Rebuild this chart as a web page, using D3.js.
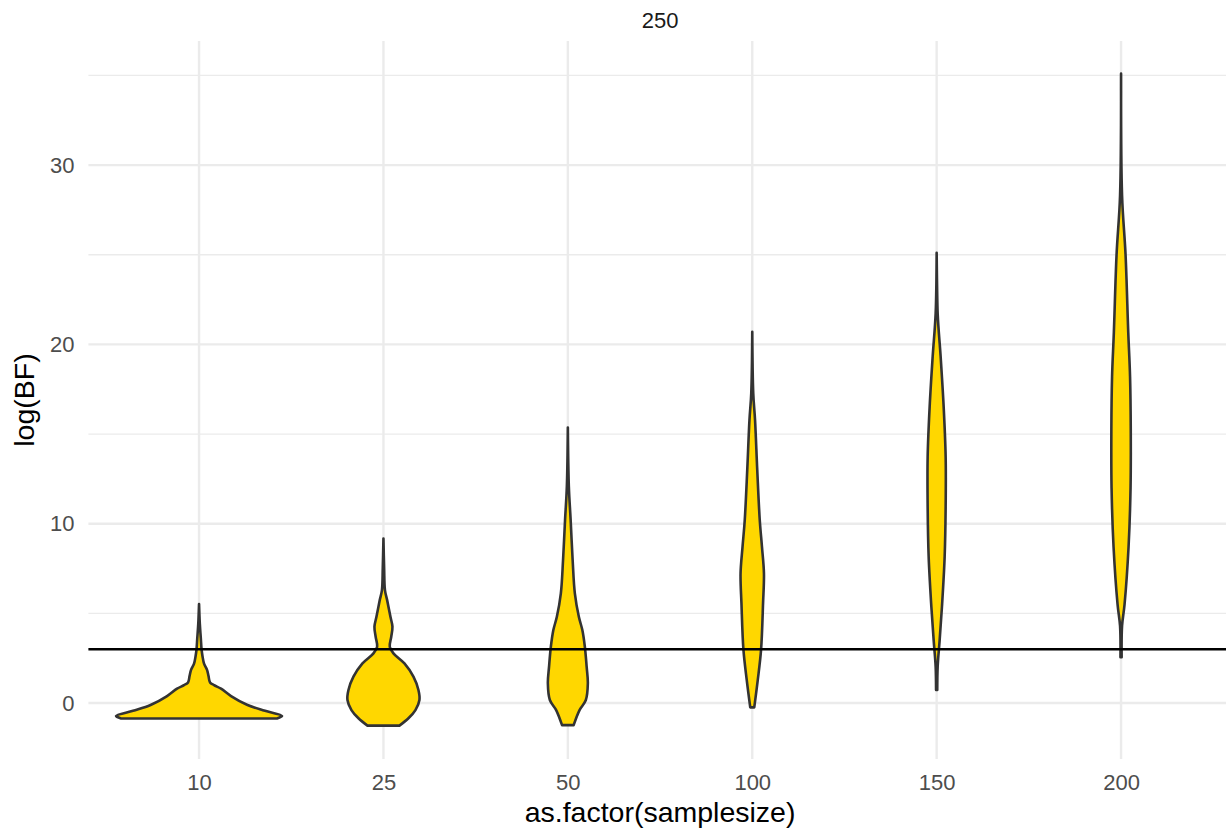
<!DOCTYPE html>
<html>
<head>
<meta charset="utf-8">
<script src="https://cdn.jsdelivr.net/npm/d3@7"></script>
<style>
  html, body { margin: 0; padding: 0; background: #ffffff; }
  svg { display: block; font-family: "Liberation Sans", Arial, Helvetica, sans-serif; }
</style>
</head>
<body>
<svg id="chart" width="1226" height="831"></svg>
<script>
const facetLabel = "250";
const sampleSizes = ["10", "25", "50", "100", "150", "200"];
const yTicks = [0, 10, 20, 30];
const yMinorTicks = [5, 15, 25, 35];
const threshold = 3;

// violin outlines: logBF level and half width (density units)
const logBF10 = [-0.86, -0.72, -0.43, -0.11, 0.39, 0.8, 1.0, 1.15, 1.5, 1.85, 2.2, 2.6, 3.0, 3.6, 4.4, 5.52];
const dens10 = [78, 83, 66, 48.5, 32, 22, 15, 11, 9.5, 8, 5, 3.5, 2.5, 1.8, 0.8, 0];
const logBF25 = [-1.26, -0.85, -0.39, 0.17, 0.73, 1.47, 2.21, 2.77, 3.14, 3.7, 4.26, 4.81, 5.74, 6.3, 7.5, 9.18];
const dens25 = [16, 25, 32, 36, 35, 30, 21, 10, 6.3, 7.8, 9, 7, 3.7, 1.5, 0.7, 0];
const logBF50 = [-1.23, -0.39, 0.17, 1.1, 2.03, 3.14, 4.07, 4.81, 6.12, 7.98, 10.21, 12.07, 15.37];
const dens50 = [5.8, 11.7, 18, 20, 18.8, 17, 14.5, 11, 7, 4.8, 2.8, 1, 0];
const logBF100 = [-0.24, 1.28, 2.96, 5.56, 7.23, 8.72, 10.21, 13.0, 15.78, 17.27, 20.71];
const dens100 = [2, 5.5, 8.8, 10.8, 11.7, 9.7, 7.5, 5, 2.8, 1, 0];
const logBF150 = [0.73, 2.02, 3.51, 5.37, 8.16, 10.95, 13.74, 16.53, 19.31, 21.73, 25.11];
const dens150 = [0.6, 1, 3, 5.3, 8, 9, 9, 7, 4, 1, 0];
const logBF200 = [2.56, 4.3, 5.5, 8.7, 12.0, 15.25, 18.2, 20.67, 25.0, 28.3, 35.1];
const dens200 = [0.6, 1, 3.5, 7.5, 9.5, 9.7, 9, 7.2, 4.5, 1, 0];

const violins = [
  { size: "10", values: logBF10, dens: dens10 },
  { size: "25", values: logBF25, dens: dens25 },
  { size: "50", values: logBF50, dens: dens50 },
  { size: "100", values: logBF100, dens: dens100 },
  { size: "150", values: logBF150, dens: dens150 },
  { size: "200", values: logBF200, dens: dens200 },
];

const svg = d3.select("#chart");
const width = 1226;

const panel = { left: 88.4, right: 1231.7, top: 41, bottom: 759 };

// discrete axis: categories at 1..n, expanded 0.6 on each side
const x = d3
  .scaleLinear()
  .domain([0.4, sampleSizes.length + 0.6])
  .range([panel.left, panel.right]);
const xPos = (s) => x(sampleSizes.indexOf(s) + 1);

const y = d3.scaleLinear().domain([-3.12, 36.92]).range([panel.bottom, panel.top]);

// widest violin fills 0.45 of a category step on each side
const maxDens = d3.max(violins, (v) => d3.max(v.dens));
const w = d3
  .scaleLinear()
  .domain([0, maxDens])
  .range([0, x(1.45) - x(1)]);

const grid = svg.append("g");

grid
  .selectAll("line.minor")
  .data(yMinorTicks)
  .enter()
  .append("line")
  .attr("x1", panel.left)
  .attr("x2", width)
  .attr("y1", (d) => y(d))
  .attr("y2", (d) => y(d))
  .style("stroke", "#ebebeb")
  .style("stroke-width", 1.3);

grid
  .selectAll("line.major")
  .data(yTicks)
  .enter()
  .append("line")
  .attr("x1", panel.left)
  .attr("x2", width)
  .attr("y1", (d) => y(d))
  .attr("y2", (d) => y(d))
  .style("stroke", "#ebebeb")
  .style("stroke-width", 2.4);

grid
  .selectAll("line.vert")
  .data(sampleSizes)
  .enter()
  .append("line")
  .attr("x1", (d) => xPos(d))
  .attr("x2", (d) => xPos(d))
  .attr("y1", panel.top)
  .attr("y2", panel.bottom)
  .style("stroke", "#ebebeb")
  .style("stroke-width", 2.4);

const area = d3
  .area()
  .curve(d3.curveCatmullRom.alpha(0.5))
  .y((d) => y(d.v))
  .x0((d) => d.cx - w(d.d))
  .x1((d) => d.cx + w(d.d));

svg
  .append("g")
  .selectAll("path")
  .data(violins)
  .enter()
  .append("path")
  .attr("d", (v) =>
    area(v.values.map((val, i) => ({ v: val, d: v.dens[i], cx: xPos(v.size) })))
  )
  .style("fill", "#ffd700")
  .style("stroke", "#333333")
  .style("stroke-width", 2.6)
  .style("stroke-linejoin", "round");

svg
  .append("line")
  .attr("x1", panel.left)
  .attr("x2", width)
  .attr("y1", y(threshold))
  .attr("y2", y(threshold))
  .style("stroke", "#000000")
  .style("stroke-width", 2.4);

// axis labels
const yAxis = d3.axisLeft(y).tickValues(yTicks).tickSize(0).tickPadding(14);
const gy = svg
  .append("g")
  .attr("transform", `translate(${panel.left},0)`)
  .call(yAxis);
gy.select(".domain").remove();
gy.selectAll("text")
  .style("font-size", "22px")
  .style("font-family", "'Liberation Sans', Arial, sans-serif")
  .style("fill", "#4d4d4d");

const gx = svg
  .append("g")
  .attr("transform", `translate(0,${panel.bottom})`)
  .call(
    d3
      .axisBottom(x)
      .tickValues(sampleSizes.map((s, i) => i + 1))
      .tickFormat((d) => sampleSizes[d - 1])
      .tickSize(0)
      .tickPadding(15)
  );
gx.select(".domain").remove();
gx.selectAll("text")
  .style("font-size", "22px")
  .style("font-family", "'Liberation Sans', Arial, sans-serif")
  .style("fill", "#4d4d4d");

const midX = (panel.left + panel.right) / 2;

svg
  .append("text")
  .attr("x", midX)
  .attr("y", 27.5)
  .attr("text-anchor", "middle")
  .style("font-size", "22px")
  .style("fill", "#1a1a1a")
  .text(facetLabel);

svg
  .append("text")
  .attr("x", midX)
  .attr("y", 822)
  .attr("text-anchor", "middle")
  .style("font-size", "28.5px")
  .style("fill", "#000000")
  .text("as.factor(samplesize)");

svg
  .append("text")
  .attr("transform", `translate(34,${(panel.top + panel.bottom) / 2}) rotate(-90)`)
  .attr("text-anchor", "middle")
  .style("font-size", "28.5px")
  .style("fill", "#000000")
  .text("log(BF)");
</script>
</body>
</html>
